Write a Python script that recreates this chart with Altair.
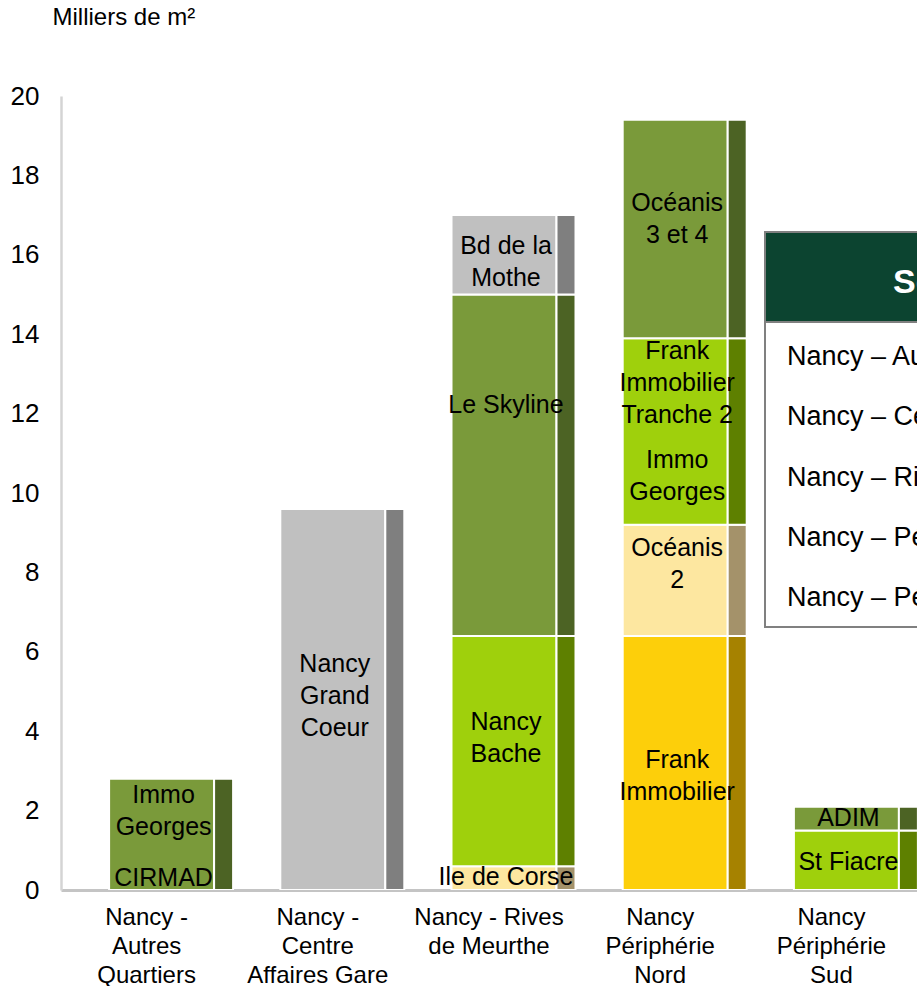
import altair as alt
import pandas as pd

# Sectors (axis labels use "|" as line break)
categories = [
    "Nancy -|Autres|Quartiers",
    "Nancy -|Centre|Affaires Gare",
    "Nancy - Rives|de Meurthe",
    "Nancy|Périphérie|Nord",
    "Nancy|Périphérie|Sud",
]

# Stacked blocks, bottom to top within each sector (thousands of m²)
seg_sector = [0, 1, 2, 2, 2, 2, 3, 3, 3, 3, 4, 4]
seg_project = [
    "CIRMAD / Immo Georges", "Nancy Grand Coeur",
    "Ile de Corse", "Nancy Bache", "Le Skyline", "Bd de la Mothe",
    "Frank Immobilier", "Océanis 2", "Frank Immobilier Tranche 2 / Immo Georges", "Océanis 3 et 4",
    "St Fiacre", "ADIM",
]
seg_value = [2.8, 9.6, 0.6, 5.8, 8.6, 2.0, 6.4, 2.8, 4.7, 5.5, 1.5, 0.6]
seg_group = ["olive", "grey", "sand", "lime", "olive", "grey",
             "gold", "sand", "lime", "olive", "lime", "olive"]

# Project names written on the blocks; height of each name's first line on the value axis
label_sector = [0, 0, 1, 2, 2, 2, 2, 3, 3, 3, 3, 3, 4, 4]
label_text = [
    "Immo\nGeorges", "CIRMAD", "Nancy\nGrand\nCoeur",
    "Bd de la\nMothe", "Le Skyline", "Nancy\nBache", "Ile de Corse",
    "Océanis\n3 et 4", "Frank\nImmobilier\nTranche 2", "Immo\nGeorges", "Océanis\n2", "Frank\nImmobilier",
    "ADIM", "St Fiacre",
]
label_value = [2.39, 0.30, 5.69, 16.22, 12.22, 4.23, 0.33, 17.3, 13.58, 10.83, 8.61, 3.27, 1.81, 0.7]

# Sector table (partly outside the drawing area)
table_title = "Secteur"
table_rows = [
    "Nancy – Autres Quartiers",
    "Nancy – Centre Affaires Gare",
    "Nancy – Rives de Meurthe",
    "Nancy – Périphérie Nord",
    "Nancy – Périphérie Sud",
]

# Front face and darker side colours for each block group
face = {"olive": "#7A9A3A", "lime": "#9FD00C", "grey": "#C0C0C0",
        "sand": "#FDE7A0", "gold": "#FDCF0A"}
side = {"olive": "#4C6324", "lime": "#5E8000", "grey": "#7F7F7F",
        "sand": "#A4926A", "gold": "#A68200"}

FONT = "Liberation Sans"

seg = pd.DataFrame({
    "sector": [categories[i] for i in seg_sector],
    "project": seg_project,
    "value": seg_value,
    "group": seg_group,
})
seg["top"] = seg.groupby("sector", sort=False)["value"].cumsum()
seg["base"] = seg["top"] - seg["value"]
seg["face"] = seg["group"].map(face)
seg["side"] = seg["group"].map(side)

labels = pd.DataFrame({
    "sector": [categories[i] for i in label_sector],
    "text": label_text,
    "pos": label_value,
})

rows = pd.DataFrame({"row": list(range(len(table_rows))), "text": table_rows})

x_scale = alt.Scale(domain=categories, paddingInner=0, paddingOuter=0)
y_scale = alt.Scale(domain=[0, 20], nice=False)

x_enc = alt.X(
    "sector:N", scale=x_scale, sort=categories, title=None,
    axis=alt.Axis(
        labelExpr="split(datum.label, '|')", labelAngle=0, labelFontSize=24,
        labelLineHeight=29, labelPadding=15, labelColor="#000000", labelFont=FONT,
        ticks=False, domainColor="#C4C4C4", domainWidth=3, grid=False,
    ),
)
y_enc = alt.Y(
    "base:Q", scale=y_scale,
    axis=alt.Axis(
        values=list(range(0, 21, 2)), labelFontSize=26, labelPadding=22,
        labelColor="#000000", labelFont=FONT, ticks=False, grid=False,
        domainColor="#D4D4D4", domainWidth=2.5,
        title="Milliers de m²", titleAngle=0, titleAlign="left",
        titleBaseline="alphabetic", titleX=-9, titleY=-72,
        titleFontSize=24, titleFontWeight="normal", titleFont=FONT,
        titleColor="#000000",
    ),
)

front = alt.Chart(seg).mark_bar(
    width=105, xOffset=15, stroke="white", strokeWidth=2, clip=True
).encode(
    x=x_enc, y=y_enc, y2="top:Q",
    color=alt.Color("face:N", scale=None),
)

shade = alt.Chart(seg).mark_bar(
    width=19, xOffset=77, stroke="white", strokeWidth=2, clip=True
).encode(
    x=alt.X("sector:N", scale=x_scale, sort=categories),
    y=alt.Y("base:Q", scale=y_scale), y2="top:Q",
    color=alt.Color("side:N", scale=None),
)

names = alt.Chart(labels).mark_text(
    font=FONT, fontSize=25, color="#000000", align="center",
    baseline="middle", lineBreak="\n", lineHeight=32, xOffset=17, clip=True,
).encode(
    x=alt.X("sector:N", scale=x_scale, sort=categories),
    y=alt.Y("pos:Q", scale=y_scale),
    text="text:N",
)

# Table frame, header band and rows
frame = alt.Chart(pd.DataFrame({"k": [0]})).mark_rect(
    fill="white", stroke="#808080", strokeWidth=2, clip=True
).encode(x=alt.value(704), x2=alt.value(920), y=alt.value(136), y2=alt.value(531))

header = alt.Chart(pd.DataFrame({"k": [0]})).mark_rect(
    fill="#0C4430", stroke="#808080", strokeWidth=2, clip=True
).encode(x=alt.value(704), x2=alt.value(920), y=alt.value(136), y2=alt.value(226))

header_text = alt.Chart(pd.DataFrame({"t": [table_title]})).mark_text(
    font=FONT, fontSize=34, fontWeight="bold", color="white",
    align="left", baseline="middle", clip=True,
).encode(x=alt.value(832), y=alt.value(187), text="t:N")

row_text = alt.Chart(rows).mark_text(
    font=FONT, fontSize=27, color="#000000", align="left",
    baseline="middle", clip=True,
).encode(
    x=alt.value(726),
    y=alt.Y("row:O", scale=alt.Scale(type="point", range=[261, 502], padding=0), axis=None),
    text="text:N",
)

bars = alt.layer(front, shade, names)
table = alt.layer(frame, header, header_text, row_text)

chart = alt.layer(bars, table).resolve_scale(y="independent").properties(
    width=856, height=794,
    autosize=alt.AutoSizeParams(type="none"),
    padding={"left": 61, "top": 96, "right": 0, "bottom": 96},
    background="white",
).configure_view(stroke=None)

chart.save("out.html", embed_options={"renderer": "svg", "actions": False})
